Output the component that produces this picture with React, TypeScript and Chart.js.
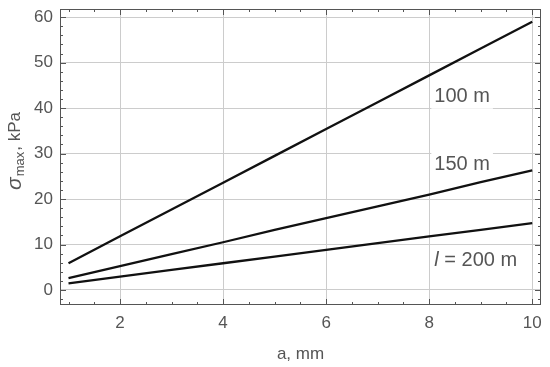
import React, { useEffect, useRef } from "react";
import { Chart, registerables } from "chart.js";

Chart.register(...registerables);

const aValues = [1, 2, 3, 4, 5, 6, 7, 8, 9, 10];
const sigma100 = [5.9, 11.8, 17.7, 23.6, 29.5, 35.4, 41.3, 47.2, 53.1, 59.0];
const sigma150 = [2.63, 5.26, 7.89, 10.5, 13.2, 15.8, 18.4, 21.0, 23.7, 26.3];
const sigma200 = [1.47, 2.94, 4.41, 5.88, 7.35, 8.82, 10.3, 11.8, 13.2, 14.7];
const xTicks = [2, 4, 6, 8, 10];
const yTicks = [0, 10, 20, 30, 40, 50, 60];
const xMinorTicks = [1, 1.5, 2.5, 3, 3.5, 4.5, 5, 5.5, 6.5, 7, 7.5, 8.5, 9, 9.5, 10];
const yMinorTicks = [-2, 2, 4, 6, 8, 12, 14, 16, 18, 22, 24, 26, 28, 32, 34, 36, 38, 42, 44, 46, 48, 52, 54, 56, 58];
const curveLabels = [
  { x: 8.1, y: 42.5, pre: "", text: "100 m" },
  { x: 8.1, y: 27.5, pre: "", text: "150 m" },
  { x: 8.1, y: 6.6, pre: "l", text: " = 200 m" },
];

const FONT = "'Liberation Sans', Arial, sans-serif";
const TEXT = "#555555";
const FRAME = "#555555";
const LABEL_SIZE = 20;

const overlay = {
  id: "overlay",
  afterDatasetsDraw(chart: any) {
    const ctx = chart.ctx;
    const xs = chart.scales.x;
    const ys = chart.scales.y;
    const a = chart.chartArea;
    ctx.save();
    ctx.strokeStyle = FRAME;
    ctx.lineWidth = 1;
    ctx.strokeRect(Math.round(a.left) + 0.5, Math.round(a.top) + 0.5, Math.round(a.right - a.left) - 1, Math.round(a.bottom - a.top) - 1);
    const drawX = (v: number, len: number) => {
      const px = Math.round(xs.getPixelForValue(v)) + 0.5;
      ctx.beginPath();
      ctx.moveTo(px, a.bottom);
      ctx.lineTo(px, a.bottom - len);
      ctx.moveTo(px, a.top);
      ctx.lineTo(px, a.top + len);
      ctx.stroke();
    };
    const drawY = (v: number, len: number) => {
      const py = Math.round(ys.getPixelForValue(v)) + 0.5;
      ctx.beginPath();
      ctx.moveTo(a.left, py);
      ctx.lineTo(a.left + len, py);
      ctx.moveTo(a.right, py);
      ctx.lineTo(a.right - len, py);
      ctx.stroke();
    };
    xTicks.forEach((v) => drawX(v, 6));
    xMinorTicks.forEach((v) => drawX(v, 3));
    yTicks.forEach((v) => drawY(v, 6));
    yMinorTicks.forEach((v) => drawY(v, 3));

    ctx.textBaseline = "middle";
    curveLabels.forEach((l) => {
      const px = xs.getPixelForValue(l.x);
      const py = ys.getPixelForValue(l.y);
      ctx.font = `italic ${LABEL_SIZE}px ${FONT}`;
      const w1 = l.pre ? ctx.measureText(l.pre).width : 0;
      ctx.font = `${LABEL_SIZE}px ${FONT}`;
      const w2 = ctx.measureText(l.text).width;
      ctx.fillStyle = "#ffffff";
      ctx.fillRect(px - 3, py - 12, w1 + w2 + 6, 24);
      ctx.fillStyle = TEXT;
      if (l.pre) {
        ctx.font = `italic ${LABEL_SIZE}px ${FONT}`;
        ctx.fillText(l.pre, px, py);
      }
      ctx.font = `${LABEL_SIZE}px ${FONT}`;
      ctx.fillText(l.text, px + w1, py);
    });

    ctx.translate(15, 151);
    ctx.rotate(-Math.PI / 2);
    ctx.fillStyle = TEXT;
    ctx.textBaseline = "middle";
    const parts = [
      { t: "σ", f: `italic 21px ${FONT}`, dy: 0, gap: 1 },
      { t: "max", f: `13px ${FONT}`, dy: 5, gap: 1 },
      { t: ", kPa", f: `17px ${FONT}`, dy: 0, gap: 0 },
    ];
    let total = 0;
    parts.forEach((p) => {
      ctx.font = p.f;
      total += ctx.measureText(p.t).width + p.gap;
    });
    let cx = -total / 2;
    parts.forEach((p) => {
      ctx.font = p.f;
      ctx.fillText(p.t, cx, p.dy);
      cx += ctx.measureText(p.t).width + p.gap;
    });
    ctx.restore();
  },
};

export default function App() {
  const ref = useRef<HTMLCanvasElement | null>(null);
  useEffect(() => {
    if (!ref.current) return;
    const mk = (data: number[]) => ({
      data: aValues.map((x, i) => ({ x, y: data[i] })),
      borderColor: "#111111",
      borderWidth: 2.3,
      pointRadius: 0,
      fill: false,
      tension: 0,
    });
    const chart = new Chart(ref.current, {
      type: "line",
      data: { datasets: [mk(sigma100), mk(sigma150), mk(sigma200)] },
      options: {
        animation: false,
        responsive: false,
        maintainAspectRatio: false,
        layout: { padding: { top: 9, right: 9, left: 0, bottom: 0 } },
        plugins: { legend: { display: false }, tooltip: { enabled: false } },
        scales: {
          x: {
            type: "linear",
            min: 0.835,
            max: 10.17,
            afterBuildTicks: (s: any) => {
              s.ticks = xTicks.map((v) => ({ value: v }));
            },
            afterFit: (s: any) => {
              s.height = 62;
              s.paddingLeft = 0;
              s.paddingRight = 0;
            },
            grid: { color: "#cccccc", drawTicks: false, lineWidth: 1 },
            border: { display: false },
            ticks: { color: TEXT, font: { family: FONT, size: 17 }, padding: 8, maxRotation: 0 },
            title: {
              display: true,
              text: "a, mm",
              color: TEXT,
              font: { family: FONT, size: 17 },
              padding: { top: 4, bottom: 2 },
            },
          },
          y: {
            type: "linear",
            min: -3.3,
            max: 61.8,
            afterBuildTicks: (s: any) => {
              s.ticks = yTicks.map((v) => ({ value: v }));
            },
            afterFit: (s: any) => {
              s.width = 60;
              s.paddingTop = 0;
              s.paddingBottom = 0;
            },
            grid: { color: "#cccccc", drawTicks: false, lineWidth: 1 },
            border: { display: false },
            ticks: { color: TEXT, font: { family: FONT, size: 17 }, padding: 7 },
          },
        },
      },
      plugins: [overlay],
    } as any);
    return () => chart.destroy();
  }, []);
  return (
    <div style={{ position: "absolute", left: 0, top: 0, width: 550, height: 367, background: "#fff" }}>
      <canvas ref={ref} width={550} height={367} style={{ width: 550, height: 367 }} />
    </div>
  );
}
